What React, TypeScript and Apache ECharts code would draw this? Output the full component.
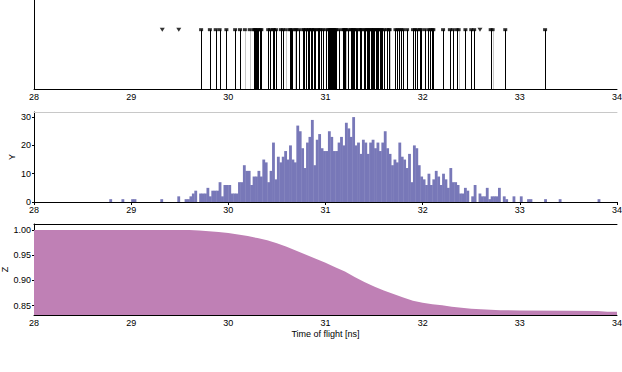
import React, { useEffect, useRef } from "react";
import * as echarts from "echarts";

// ---- Data ----
const X_MIN = 28;
const X_MAX = 34;
const X_TICK_STEP = 1;

// Histogram (panel 2): counts per 0.025 ns bin starting at 28.000 ns
const HIST_START = 28.0;
const HIST_BIN = 0.025;
const HIST_COUNTS = [
  0, 0, 0, 0, 0, 0, 0, 0, 0, 0, 0, 0, 0, 0, 0, 0, 0, 0, 0, 0,
  0, 0, 0, 0, 0, 0, 0, 0, 0, 0, 0, 1, 0, 0, 0, 0, 1, 0, 0, 0,
  1, 1, 0, 0, 0, 0, 0, 0, 0, 0, 0, 0, 1, 0, 0, 0, 0, 0, 0, 2,
  0, 0, 1, 1, 2, 3, 4, 0, 3, 3, 3, 5, 2, 4, 4, 4, 7, 2, 6, 6,
  6, 3, 3, 3, 7, 7, 13, 11, 11, 6, 9, 9, 11, 9, 15, 14, 7, 11, 21, 8,
  16, 14, 16, 18, 15, 20, 15, 14, 27, 25, 19, 12, 21, 23, 29, 13, 22, 24, 19, 18,
  18, 25, 23, 18, 18, 21, 23, 20, 28, 26, 23, 30, 20, 21, 17, 22, 21, 17, 21, 22,
  19, 21, 18, 21, 25, 19, 17, 13, 15, 14, 21, 16, 15, 12, 17, 7, 20, 19, 13, 9,
  8, 6, 10, 6, 8, 11, 9, 6, 10, 8, 5, 12, 7, 7, 6, 3, 3, 5, 4, 0,
  2, 6, 0, 3, 2, 2, 5, 1, 2, 2, 2, 5, 0, 2, 1, 0, 0, 2, 0, 0,
  2, 0, 0, 1, 1, 0, 0, 0, 0, 0, 1, 0, 0, 0, 0, 0, 1, 0, 0, 0,
  0, 0, 0, 0, 0, 0, 0, 0, 0, 0, 0, 0, 1, 0, 0, 0, 0, 0, 0, 0,
];

// Events (panel 1): black stems, grey stems, markers without stems
const EVENT_TIMES = [
  29.72, 29.81, 29.87, 29.91, 29.98, 30.07, 30.12,
  30.26, 30.27, 30.28, 30.30, 30.31, 30.33, 30.34, 30.41, 30.43, 30.46, 30.47, 30.49,
  30.54, 30.56, 30.63, 30.64, 30.66, 30.70, 30.73, 30.77, 30.78, 30.80, 30.82, 30.83,
  30.85, 30.86, 30.88, 30.89, 30.92, 30.93, 30.95, 30.97, 31.00, 31.03, 31.04, 31.05,
  31.06, 31.07, 31.08, 31.09, 31.10, 31.11, 31.14, 31.18, 31.19, 31.20, 31.23, 31.26,
  31.27, 31.28, 31.29, 31.31, 31.32, 31.35, 31.36, 31.37, 31.40, 31.41, 31.43, 31.44,
  31.45, 31.47, 31.48, 31.49, 31.50, 31.52, 31.53, 31.54, 31.56, 31.57, 31.58, 31.60,
  31.63, 31.65, 31.72, 31.74, 31.76, 31.78, 31.80, 31.84, 31.90, 31.92, 31.94, 31.97,
  31.98, 32.02, 32.06, 32.08, 32.10, 32.11, 32.21, 32.28, 32.31, 32.35, 32.44, 32.50,
  32.53, 32.70, 32.85, 33.26,
];
const EVENT_TIMES_GREY = [30.17, 30.22, 30.59, 30.69, 31.21, 31.66, 32.37, 32.72];
const MARKER_ONLY_TIMES = [29.32, 29.49, 32.59];

// Z curve (panel 3)
const Z_TIME = [
  28.0, 29.6, 29.7, 29.8, 29.9, 30.0, 30.1, 30.2, 30.3, 30.4, 30.5, 30.6, 30.7, 30.8,
  30.9, 31.0, 31.1, 31.2, 31.3, 31.4, 31.5, 31.6, 31.7, 31.8, 31.9, 32.0, 32.1, 32.2,
  32.3, 32.4, 32.5, 32.6, 32.7, 32.8, 33.0, 33.5, 33.8, 33.9, 34.0,
];
const Z_VALUE = [
  1.0, 1.0, 0.999, 0.9975, 0.996, 0.994, 0.991, 0.988, 0.984, 0.98, 0.974, 0.967, 0.959, 0.951,
  0.943, 0.935, 0.926, 0.918, 0.907, 0.897, 0.888, 0.88, 0.873, 0.866, 0.86, 0.856, 0.853, 0.851,
  0.848, 0.846, 0.844, 0.843, 0.842, 0.841, 0.8405, 0.84, 0.8395, 0.838, 0.838,
];

const FONT = "Liberation Sans";
const HIST_COLOR = "#7878b8";
const Z_COLOR = "#bf80b5";

export default function App() {
  const ref = useRef<HTMLDivElement>(null);

  useEffect(() => {
    if (!ref.current) return;
    const chart = echarts.init(ref.current, undefined, { renderer: "svg" });

    const labelStyle = { fontSize: 9, color: "#000", fontFamily: FONT, margin: 3 };
    const baseX = (gridIndex: number, extra: any = {}) => ({
      gridIndex,
      type: "value",
      min: X_MIN,
      max: X_MAX,
      interval: X_TICK_STEP,
      axisLine: { onZero: false, lineStyle: { color: "#000", width: 1 } },
      axisTick: { show: false },
      splitLine: { show: false },
      axisLabel: labelStyle,
      ...extra,
    });
    const topX = (gridIndex: number, color: string) => ({
      gridIndex,
      type: "value",
      position: "top",
      min: X_MIN,
      max: X_MAX,
      axisLine: { onZero: false, lineStyle: { color, width: 1 } },
      axisTick: { show: false },
      axisLabel: { show: false },
      splitLine: { show: false },
    });

    const histData = HIST_COUNTS.map((c, i) => [
      HIST_START + i * HIST_BIN,
      HIST_START + (i + 1) * HIST_BIN,
      c,
    ]).filter((d) => d[2] > 0);

    const stemRender = (color: string) => (params: any, api: any) => {
      const t = api.value(0);
      const p0 = api.coord([t, 0]);
      const p1 = api.coord([t, 1]);
      const x = Math.round(p0[0]) + 0.5;
      return {
        type: "line",
        shape: { x1: x, y1: p0[1], x2: x, y2: p1[1] },
        style: { stroke: color, lineWidth: 1 },
      };
    };

    const gridBase = { containLabel: false, outerBoundsMode: "none" };

    const option: any = {
      animation: false,
      textStyle: { fontFamily: FONT },
      grid: [
        { ...gridBase, left: 34, top: 0, width: 583, height: 89 },
        { ...gridBase, left: 34, top: 112, width: 583, height: 90 },
        { ...gridBase, left: 34, top: 224, width: 583, height: 91 },
      ],
      xAxis: [
        baseX(0),
        baseX(1, { axisTick: { show: true, length: 3, lineStyle: { color: "#000" } } }),
        baseX(2, {
          name: "Time of flight [ns]",
          nameLocation: "middle",
          nameGap: 14,
          nameMoveOverlap: false,
          nameTextStyle: { fontSize: 9, color: "#000", fontFamily: FONT },
        }),
        topX(1, "#c8c8c8"),
        topX(2, "#000"),
      ],
      yAxis: [
        {
          gridIndex: 0,
          type: "value",
          min: 0,
          max: 1.5,
          axisLine: { show: true, lineStyle: { color: "#000" } },
          axisTick: { show: false },
          axisLabel: { show: false },
          splitLine: { show: false },
        },
        {
          gridIndex: 1,
          type: "value",
          min: 0,
          max: 31.8,
          interval: 10,
          name: "Y",
          nameLocation: "middle",
          nameGap: 18,
          nameMoveOverlap: false,
          nameRotate: 90,
          nameTextStyle: { fontSize: 9, color: "#000", fontFamily: FONT },
          axisLine: { show: true, lineStyle: { color: "#000" } },
          axisTick: { show: true, length: 2, lineStyle: { color: "#000" } },
          axisLabel: { ...labelStyle, showMaxLabel: false },
          splitLine: { show: false },
        },
        {
          gridIndex: 2,
          type: "value",
          min: 0.8315,
          max: 1.012,
          splitNumber: 4,
          name: "Z",
          nameLocation: "middle",
          nameGap: 25,
          nameMoveOverlap: false,
          nameRotate: 90,
          nameTextStyle: { fontSize: 9, color: "#000", fontFamily: FONT },
          axisLine: { show: true, lineStyle: { color: "#000" } },
          axisTick: { show: true, length: 2, lineStyle: { color: "#000" } },
          axisLabel: {
            ...labelStyle,
            showMinLabel: false,
            showMaxLabel: false,
            formatter: (v: number) => v.toFixed(2),
          },
          splitLine: { show: false },
        },
      ],
      series: [
        {
          type: "custom",
          xAxisIndex: 0,
          yAxisIndex: 0,
          renderItem: stemRender("#c8c8c8"),
          data: EVENT_TIMES_GREY.map((t) => [t, 1]),
          silent: true,
        },
        {
          type: "custom",
          xAxisIndex: 0,
          yAxisIndex: 0,
          renderItem: stemRender("#000"),
          data: EVENT_TIMES.map((t) => [t, 1]),
          silent: true,
        },
        {
          type: "scatter",
          xAxisIndex: 0,
          yAxisIndex: 0,
          symbol: "rect",
          symbolSize: [4, 3],
          itemStyle: { color: "#000" },
          data: [...EVENT_TIMES, ...EVENT_TIMES_GREY].map((t) => [t, 1]),
          silent: true,
        },
        {
          type: "scatter",
          xAxisIndex: 0,
          yAxisIndex: 0,
          symbol: "triangle",
          symbolRotate: 180,
          symbolSize: [5, 4],
          itemStyle: { color: "#000" },
          data: MARKER_ONLY_TIMES.map((t) => [t, 1]),
          silent: true,
        },
        {
          type: "custom",
          xAxisIndex: 1,
          yAxisIndex: 1,
          encode: { x: [0, 1], y: 2 },
          renderItem: (params: any, api: any) => {
            const p0 = api.coord([api.value(0), api.value(2)]);
            const p1 = api.coord([api.value(1), 0]);
            return {
              type: "rect",
              shape: { x: p0[0], y: p0[1], width: p1[0] - p0[0] + 0.4, height: p1[1] - p0[1] },
              style: { fill: HIST_COLOR },
            };
          },
          data: histData,
          silent: true,
        },
        {
          type: "line",
          xAxisIndex: 2,
          yAxisIndex: 2,
          showSymbol: false,
          symbol: "none",
          lineStyle: { width: 0, color: Z_COLOR },
          areaStyle: { color: Z_COLOR, opacity: 1, origin: "start" },
          data: Z_TIME.map((t, i) => [t, Z_VALUE[i]]),
          silent: true,
        },
      ],
    };

    chart.setOption(option);
    return () => chart.dispose();
  }, []);

  return (
    <div
      ref={ref}
      style={{ position: "fixed", left: 0, top: 0, width: 622, height: 372, background: "#fff" }}
    />
  );
}
